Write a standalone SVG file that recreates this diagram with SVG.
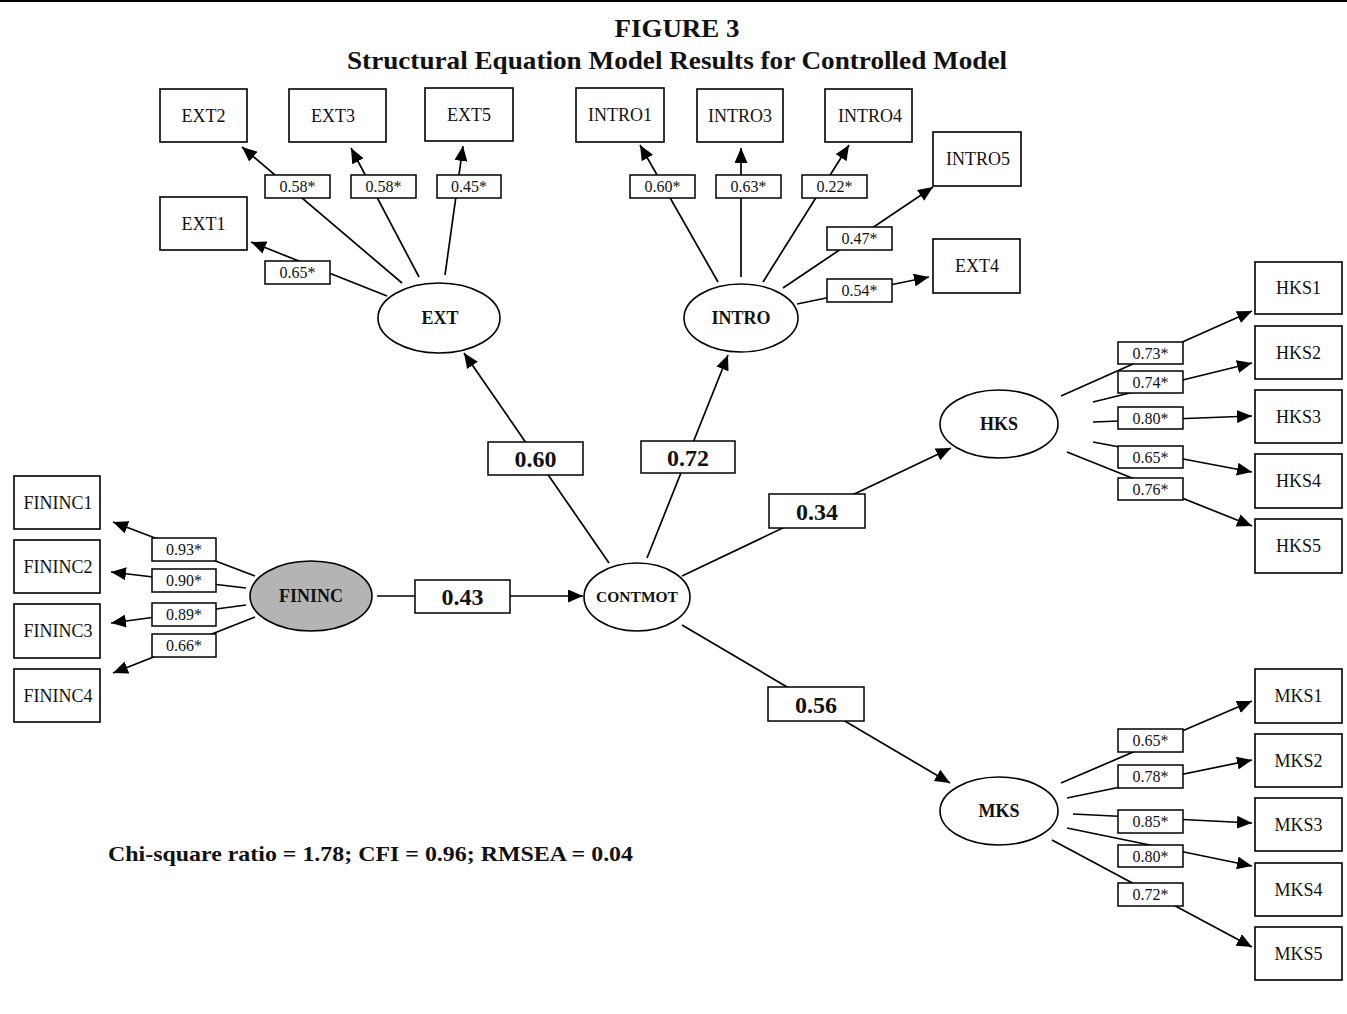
<svg xmlns="http://www.w3.org/2000/svg" width="1347" height="1014" viewBox="0 0 1347 1014">
<defs>
<marker id="arr" markerUnits="userSpaceOnUse" markerWidth="15" markerHeight="13" refX="15" refY="6.5" orient="auto">
<path d="M0,0 L15,6.5 L0,13 z" fill="#000"/>
</marker>
<style>
.bg{fill:#fff}
.box{fill:#fff;stroke:#000;stroke-width:1.6}
.ell{fill:#fff;stroke:#000;stroke-width:1.6}
.gray{fill:#b4b4b4}
.t{font-family:"Liberation Serif","Times New Roman",serif;font-size:18px;text-anchor:middle;fill:#111}
.lt{font-family:"Liberation Serif","Times New Roman",serif;font-size:16px;text-anchor:middle;fill:#111}
.bt{font-family:"Liberation Serif","Times New Roman",serif;font-size:24px;font-weight:bold;text-anchor:middle;fill:#111}
.et{font-family:"Liberation Serif","Times New Roman",serif;font-size:18px;font-weight:bold;text-anchor:middle;fill:#111}
.lab{fill:#fff;stroke:#000;stroke-width:1.5}
.c line{stroke:#000;stroke-width:1.7;marker-end:url(#arr)}
.title{font-family:"Liberation Serif","Times New Roman",serif;font-size:26px;font-weight:bold;text-anchor:middle;fill:#111}
</style>
</defs>
<rect class="bg" x="0" y="0" width="1347" height="1014"/>
<line x1="0" y1="1" x2="1347" y2="1" stroke="#000" stroke-width="2"/>
<text class="title" x="677" y="37" textLength="125" lengthAdjust="spacingAndGlyphs">FIGURE 3</text>
<text class="title" x="677" y="69" textLength="660" lengthAdjust="spacingAndGlyphs">Structural Equation Model Results for Controlled Model</text>

<g id="connectors" class="c">
<line x1="402" y1="283" x2="242" y2="147"/>
<line x1="419" y1="277" x2="351" y2="148"/>
<line x1="445" y1="275" x2="463" y2="146"/>
<line x1="387" y1="296" x2="251" y2="242"/>
<line x1="718" y1="282" x2="640" y2="145"/>
<line x1="741" y1="277" x2="741" y2="148"/>
<line x1="763" y1="282" x2="849" y2="145"/>
<line x1="783" y1="288" x2="933" y2="187"/>
<line x1="797" y1="304" x2="929" y2="277"/>
<line x1="255" y1="576" x2="113" y2="522"/>
<line x1="246" y1="588" x2="111" y2="572"/>
<line x1="246" y1="605" x2="111" y2="623"/>
<line x1="255" y1="617" x2="113" y2="673"/>
<line x1="377" y1="596" x2="583" y2="596"/>
<line x1="609" y1="563" x2="464" y2="353"/>
<line x1="647" y1="558" x2="728" y2="355"/>
<line x1="682" y1="576" x2="951" y2="448"/>
<line x1="682" y1="625" x2="950" y2="783"/>
<line x1="1061" y1="396" x2="1252" y2="311"/>
<line x1="1093" y1="402" x2="1252" y2="363"/>
<line x1="1093" y1="422" x2="1252" y2="416"/>
<line x1="1093" y1="442" x2="1252" y2="472"/>
<line x1="1067" y1="452" x2="1252" y2="526"/>
<line x1="1061" y1="783" x2="1252" y2="701"/>
<line x1="1067" y1="798" x2="1252" y2="760"/>
<line x1="1073" y1="814" x2="1252" y2="823"/>
<line x1="1067" y1="828" x2="1252" y2="866"/>
<line x1="1052" y1="840" x2="1252" y2="947"/>
</g>

<g id="edge-labels">
<rect class="lab" x="265" y="175" width="65" height="23"/><text class="lt" x="297.5" y="192">0.58*</text>
<rect class="lab" x="351" y="175" width="65" height="23"/><text class="lt" x="383.5" y="192">0.58*</text>
<rect class="lab" x="437" y="175" width="64" height="23"/><text class="lt" x="469" y="192">0.45*</text>
<rect class="lab" x="265" y="261" width="65" height="23"/><text class="lt" x="297.5" y="278">0.65*</text>
<rect class="lab" x="630" y="175" width="65" height="23"/><text class="lt" x="662.5" y="192">0.60*</text>
<rect class="lab" x="716" y="175" width="65" height="23"/><text class="lt" x="748.5" y="192">0.63*</text>
<rect class="lab" x="802" y="175" width="65" height="23"/><text class="lt" x="834.5" y="192">0.22*</text>
<rect class="lab" x="827" y="227" width="65" height="23"/><text class="lt" x="859.5" y="244">0.47*</text>
<rect class="lab" x="827" y="279" width="65" height="23"/><text class="lt" x="859.5" y="296">0.54*</text>
<rect class="lab" x="152" y="538" width="64" height="23"/><text class="lt" x="184" y="555">0.93*</text>
<rect class="lab" x="152" y="569" width="64" height="23"/><text class="lt" x="184" y="586">0.90*</text>
<rect class="lab" x="152" y="603" width="64" height="23"/><text class="lt" x="184" y="620">0.89*</text>
<rect class="lab" x="152" y="634" width="64" height="23"/><text class="lt" x="184" y="651">0.66*</text>
<rect class="lab" x="1118" y="342" width="65" height="22"/><text class="lt" x="1150.5" y="358.5">0.73*</text>
<rect class="lab" x="1118" y="371" width="65" height="22"/><text class="lt" x="1150.5" y="387.5">0.74*</text>
<rect class="lab" x="1118" y="407" width="65" height="22"/><text class="lt" x="1150.5" y="423.5">0.80*</text>
<rect class="lab" x="1118" y="446" width="65" height="22"/><text class="lt" x="1150.5" y="462.5">0.65*</text>
<rect class="lab" x="1118" y="478" width="65" height="22"/><text class="lt" x="1150.5" y="494.5">0.76*</text>
<rect class="lab" x="1118" y="729" width="65" height="23"/><text class="lt" x="1150.5" y="746">0.65*</text>
<rect class="lab" x="1118" y="765" width="65" height="23"/><text class="lt" x="1150.5" y="782">0.78*</text>
<rect class="lab" x="1118" y="810" width="65" height="23"/><text class="lt" x="1150.5" y="827">0.85*</text>
<rect class="lab" x="1118" y="845" width="65" height="22"/><text class="lt" x="1150.5" y="861.5">0.80*</text>
<rect class="lab" x="1118" y="883" width="65" height="23"/><text class="lt" x="1150.5" y="900">0.72*</text>
<rect class="lab" x="488" y="442" width="95" height="33"/><text class="bt" x="535.5" y="467">0.60</text>
<rect class="lab" x="641" y="441" width="94" height="32"/><text class="bt" x="688" y="465.5">0.72</text>
<rect class="lab" x="769" y="494" width="96" height="34"/><text class="bt" x="817" y="519.5">0.34</text>
<rect class="lab" x="415" y="580" width="95" height="33"/><text class="bt" x="462.5" y="605">0.43</text>
<rect class="lab" x="768" y="687" width="96" height="34"/><text class="bt" x="816" y="712.5">0.56</text>
</g>

<g id="EXT2"><rect class="box" x="160" y="89" width="87" height="53"/><text class="t" x="203.5" y="122">EXT2</text></g>
<g id="EXT3"><rect class="box" x="289" y="89" width="97" height="53"/><text class="t" x="333" y="122">EXT3</text></g>
<g id="EXT5"><rect class="box" x="425" y="88" width="88" height="53"/><text class="t" x="469" y="121">EXT5</text></g>
<g id="EXT1"><rect class="box" x="160" y="197" width="87" height="53"/><text class="t" x="203.5" y="230">EXT1</text></g>
<g id="INTRO1"><rect class="box" x="576" y="88" width="88" height="54"/><text class="t" x="620" y="121">INTRO1</text></g>
<g id="INTRO3"><rect class="box" x="697" y="89" width="86" height="53"/><text class="t" x="740" y="122">INTRO3</text></g>
<g id="INTRO4"><rect class="box" x="825" y="89" width="87" height="53"/><text class="t" x="870" y="122">INTRO4</text></g>
<g id="INTRO5"><rect class="box" x="933" y="132" width="88" height="54"/><text class="t" x="978" y="165">INTRO5</text></g>
<g id="EXT4"><rect class="box" x="933" y="239" width="87" height="54"/><text class="t" x="977" y="272">EXT4</text></g>
<g id="FININC1"><rect class="box" x="14" y="476" width="86" height="53"/><text class="t" x="58" y="509">FININC1</text></g>
<g id="FININC2"><rect class="box" x="14" y="540" width="86" height="53"/><text class="t" x="58" y="573">FININC2</text></g>
<g id="FININC3"><rect class="box" x="14" y="604" width="86" height="54"/><text class="t" x="58" y="637">FININC3</text></g>
<g id="FININC4"><rect class="box" x="14" y="669" width="86" height="53"/><text class="t" x="58" y="702">FININC4</text></g>
<g id="HKS1"><rect class="box" x="1255" y="262" width="87" height="52"/><text class="t" x="1298.5" y="294">HKS1</text></g>
<g id="HKS2"><rect class="box" x="1255" y="326" width="87" height="53"/><text class="t" x="1298.5" y="359">HKS2</text></g>
<g id="HKS3"><rect class="box" x="1255" y="390" width="87" height="53"/><text class="t" x="1298.5" y="423">HKS3</text></g>
<g id="HKS4"><rect class="box" x="1255" y="454" width="87" height="54"/><text class="t" x="1298.5" y="487">HKS4</text></g>
<g id="HKS5"><rect class="box" x="1255" y="519" width="87" height="54"/><text class="t" x="1298.5" y="552">HKS5</text></g>
<g id="MKS1"><rect class="box" x="1255" y="669" width="87" height="54"/><text class="t" x="1298.5" y="702">MKS1</text></g>
<g id="MKS2"><rect class="box" x="1255" y="734" width="87" height="53"/><text class="t" x="1298.5" y="767">MKS2</text></g>
<g id="MKS3"><rect class="box" x="1255" y="798" width="87" height="53"/><text class="t" x="1298.5" y="831">MKS3</text></g>
<g id="MKS4"><rect class="box" x="1255" y="863" width="87" height="53"/><text class="t" x="1298.5" y="896">MKS4</text></g>
<g id="MKS5"><rect class="box" x="1255" y="927" width="87" height="53"/><text class="t" x="1298.5" y="960">MKS5</text></g>

<g id="EXT"><ellipse class="ell" cx="439" cy="318" rx="61" ry="35"/><text class="et" x="440" y="324">EXT</text></g>
<g id="INTRO"><ellipse class="ell" cx="741" cy="318" rx="57" ry="34"/><text class="et" x="741" y="324">INTRO</text></g>
<g id="CONTMOT"><ellipse class="ell" cx="637" cy="597" rx="53" ry="34"/><text class="et" x="637" y="602" style="font-size:15.5px">CONTMOT</text></g>
<g id="FININC"><ellipse class="ell gray" cx="311" cy="596" rx="61" ry="35"/><text class="et" x="311" y="602">FININC</text></g>
<g id="HKS"><ellipse class="ell" cx="999" cy="424" rx="59" ry="34"/><text class="et" x="999" y="430">HKS</text></g>
<g id="MKS"><ellipse class="ell" cx="999" cy="811" rx="59" ry="34"/><text class="et" x="999" y="817">MKS</text></g>

<text x="108" y="861" style="font-family:'Liberation Serif','Times New Roman',serif;font-size:22px;font-weight:bold;fill:#111" textLength="525" lengthAdjust="spacingAndGlyphs">Chi-square ratio = 1.78; CFI = 0.96; RMSEA = 0.04</text>
</svg>
